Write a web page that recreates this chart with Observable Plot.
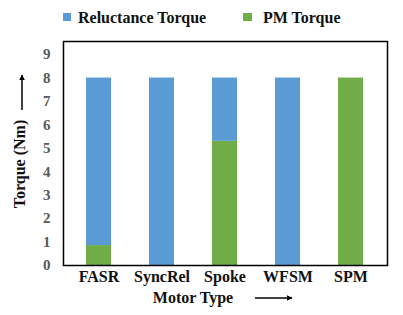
<!DOCTYPE html>
<html>
<head>
<meta charset="utf-8">
<script src="https://cdn.jsdelivr.net/npm/d3@7"></script>
<script src="https://cdn.jsdelivr.net/npm/@observablehq/plot@0.6"></script>
<style>
  html, body { margin: 0; padding: 0; background: #fff; }
  #chart svg { display: block; }
</style>
</head>
<body>
<div id="chart"></div>
<script>
const motors = ["FASR", "SyncRel", "Spoke", "WFSM", "SPM"];
const pmTorque = [0.85, 0, 5.3, 0, 8];
const reluctanceTorque = [7.15, 8, 2.7, 8, 0];
const seriesNames = ["Reluctance Torque", "PM Torque"];
const seriesColors = ["#5B9BD5", "#70AD47"];
const yTicks = [0, 1, 2, 3, 4, 5, 6, 7, 8, 9];

const rows = [];
motors.forEach((m, i) => {
  rows.push({motor: m, series: "PM Torque", value: pmTorque[i]});
  rows.push({motor: m, series: "Reluctance Torque", value: reluctanceTorque[i]});
});

const serif = "'Liberation Serif', 'Times New Roman', serif";

const chart = Plot.plot({
  width: 403,
  height: 315,
  marginLeft: 63,
  marginRight: 16,
  marginTop: 41,
  marginBottom: 50,
  style: {fontFamily: serif, fontWeight: "bold", background: "#fff"},
  x: {domain: motors, paddingInner: 0.6, paddingOuter: 0.36, label: null},
  y: {domain: [0, 9.56], ticks: yTicks, label: null},
  color: {domain: seriesNames, range: seriesColors},
  marks: [
    Plot.barY(rows, Plot.stackY({
      x: "motor", y: "value", fill: "series",
      order: ["PM Torque", "Reluctance Torque"]
    })),
    Plot.frame({stroke: "#000", strokeWidth: 1.5}),
    Plot.axisY({ticks: yTicks, tickSize: 0, tickPadding: 13, fontSize: 15, fill: "#595959", label: null}),
    Plot.axisX({tickSize: 0, tickPadding: 5, fontSize: 16, fill: "#111", label: null})
  ]
});

const svg = d3.select(chart);
// Legend
const leg = svg.append("g").attr("font-family", serif).attr("font-weight", "bold").attr("font-size", 16).attr("fill", "#111").attr("text-anchor", "start");
leg.append("rect").attr("x", 63).attr("y", 13).attr("width", 8).attr("height", 8).attr("fill", seriesColors[0]);
leg.append("text").attr("x", 78).attr("y", 22.5).attr("text-anchor", "start").text(seriesNames[0]);
leg.append("rect").attr("x", 243).attr("y", 13).attr("width", 9).attr("height", 8).attr("fill", seriesColors[1]);
leg.append("text").attr("x", 263).attr("y", 22.5).attr("text-anchor", "start").text(seriesNames[1]);

// Axis titles with arrows
const defs = svg.append("defs");
defs.append("marker").attr("id", "ah").attr("viewBox", "0 0 10 10").attr("refX", 9).attr("refY", 5)
  .attr("markerWidth", 4).attr("markerHeight", 4).attr("orient", "auto")
  .append("path").attr("d", "M0,0L10,5L0,10z").attr("fill", "#000");

const titles = svg.append("g").attr("font-family", serif).attr("font-weight", "bold").attr("font-size", 16).attr("fill", "#111");
titles.append("text").attr("x", 193).attr("y", 303).attr("text-anchor", "middle").text("Motor Type");
svg.append("line").attr("x1", 255).attr("y1", 298).attr("x2", 292).attr("y2", 298)
  .attr("stroke", "#000").attr("stroke-width", 1.5).attr("marker-end", "url(#ah)");

titles.append("text").attr("transform", "translate(25,164) rotate(-90)").attr("text-anchor", "middle").text("Torque (Nm)");
svg.append("line").attr("x1", 22).attr("y1", 110).attr("x2", 22).attr("y2", 75)
  .attr("stroke", "#000").attr("stroke-width", 1.5).attr("marker-end", "url(#ah)");

document.getElementById("chart").appendChild(chart);
</script>
</body>
</html>
